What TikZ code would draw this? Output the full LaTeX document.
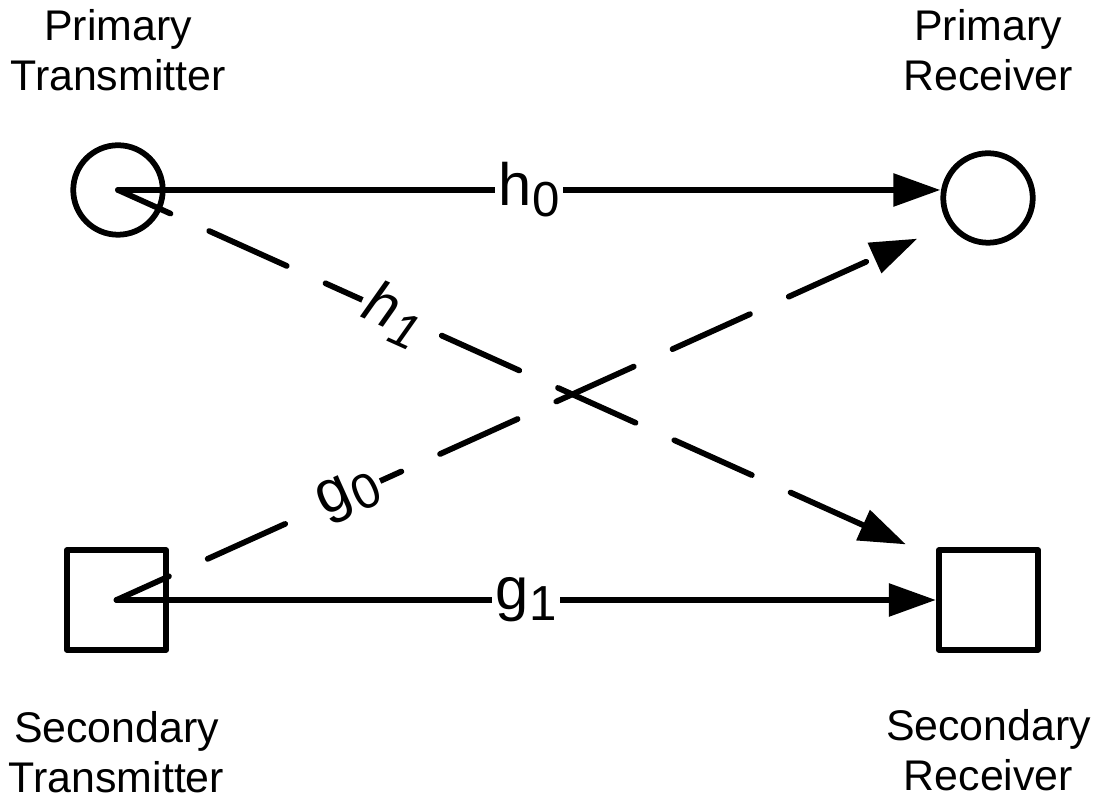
\documentclass[tikz,border=0pt]{standalone}
\usepackage{fontspec}
\setmainfont{Liberation Sans}
\usetikzlibrary{arrows.meta, calc, positioning}

\newcommand{\chan}[2]{#1\kern0.5pt\raisebox{-0.22cm}{\fontsize{28}{28}\selectfont #2}}

\begin{document}
\begin{tikzpicture}[
	line width=0.115cm, line cap=round, line join=round,
	tip/.style={-{Triangle[length=0.94cm,width=0.64cm]}},
	link/.style={tip, dash pattern=on 1.7cm off 0.85cm, dash phase=0.55cm},
	chlabel/.style={fill=white, inner sep=2pt, font=\fontsize{34}{34}\selectfont},
	caption/.style={align=center, font=\fontsize{24.4}{28.3}\selectfont}]
		\useasboundingbox (0,0) rectangle (22.02,16);

		\node[circle, draw, minimum size=1.79cm, inner sep=0] (pt) at (2.36,12.2) {};
		\node[circle, draw, minimum size=1.79cm, inner sep=0] (pr) at (19.76,12.04) {};
		\node[draw, minimum size=1.99cm, inner sep=0] (st) at (2.33,4.0) {};
		\node[draw, minimum size=1.99cm, inner sep=0] (sr) at (19.77,4.0) {};

		\node[caption] (ptlabel) at ($(pt)+(0,2.8)$) {Primary\\Transmitter};
		\node[caption] (prlabel) at ($(pr)+(0,2.96)$) {Primary\\Receiver};
		\node[caption] (stlabel) at ($(st)+(0,-3.04)$) {Secondary\\Transmitter};
		\node[caption] (srlabel) at ($(sr)+(0,-3.0)$) {Secondary\\Receiver};

		\coordinate (h1end) at ($(sr.north west)+(-0.6,0.06)$);
		\coordinate (g0end) at ($(pr.south west)+(-0.74,-0.14)$);

		\draw[tip] (pt.center) -- (pt.center -| pr.west) node[chlabel, midway] {\chan{h}{0}};
		\draw[tip] (st.center) -- (st.center -| sr.west) node[chlabel, midway] {\chan{g}{1}};
		\draw[link] (pt.center) -- (h1end) node[chlabel, pos=0.35, sloped] {\itshape\chan{h}{1}};
		\draw[link] (st.center) -- (g0end) node[chlabel, pos=0.29, sloped] {\chan{g}{0}};
	\end{tikzpicture}
\end{document}
